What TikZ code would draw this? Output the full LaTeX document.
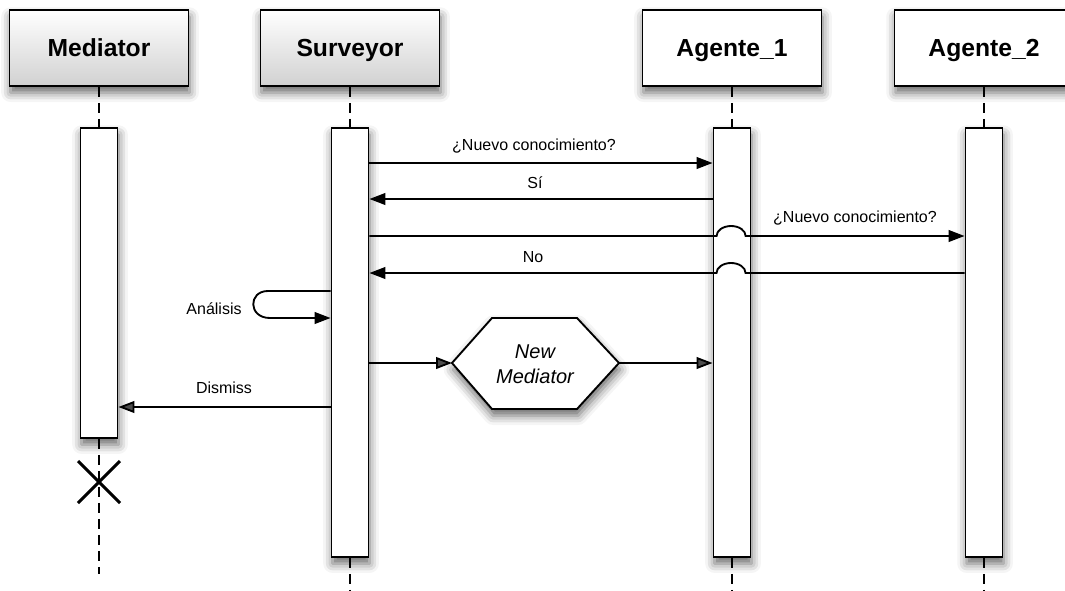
\documentclass[tikz,border=0pt]{standalone}
\usepackage{fontspec}
\setmainfont{Liberation Sans}
\usetikzlibrary{arrows.meta,calc,shadows.blur}
\begin{document}
\begin{tikzpicture}[x=0.75pt,y=-0.75pt,
  line width=1.4pt,
  soft/.style={blur shadow={shadow xshift=0.8pt,shadow yshift=-5pt,shadow blur radius=7pt,shadow opacity=60}},
  header/.style={draw, soft, fill=white, minimum width=134.25pt, minimum height=57pt,
                 text height=13.2pt, text depth=0pt,
                 font=\fontsize{18.5}{22}\selectfont\bfseries},
  greyfill/.style={top color=white, bottom color=black!18},
  bar/.style={draw, soft, fill=white, minimum width=27.75pt, anchor=north, inner sep=0pt},
  life/.style={line width=1.1pt, dash pattern=on 7.5pt off 4.5pt},
  msg/.style={-{Triangle[length=12pt,width=8.8pt]}},
  lbl/.style={font=\fontsize{12}{14}\selectfont, inner sep=0pt, anchor=base},
  hextext/.style={inner sep=0pt, align=center, font=\fontsize{15}{18.75}\selectfont\itshape},
]
\useasboundingbox (0,0) rectangle (1065,590);

% participant heads
\node[header,greyfill] (hM)  at (99,48)  {Mediator};
\node[header,greyfill] (hS)  at (350,48) {Surveyor};
\node[header]          (hA1) at (732,48) {Agente\_1};
\node[header]          (hA2) at (984,48) {Agente\_2};

% activation bars
\node[bar, minimum height=232.5pt]  (aM)  at (99,127)  {};
\node[bar, minimum height=321.75pt] (aS)  at (350,127) {};
\node[bar, minimum height=321.75pt] (aA1) at (732,127) {};
\node[bar, minimum height=321.75pt] (aA2) at (984,127) {};

% lifelines
\coordinate (endM)  at (99,574);
\coordinate (endS)  at (350,595);
\coordinate (endA1) at (732,595);
\coordinate (endA2) at (984,595);
\draw[life] (hM.south)  -- (aM.north);
\draw[life] (hS.south)  -- (aS.north);
\draw[life] (hA1.south) -- (aA1.north);
\draw[life] (hA2.south) -- (aA2.north);
\draw[life] (aM.south)  -- (endM);
\draw[life] (aS.south)  -- (endS);
\draw[life] (aA1.south) -- (endA1);
\draw[life] (aA2.south) -- (endA2);

% destruction of the mediator
\coordinate (kill) at (99,482);
\draw[line width=2.3pt] (kill) +(-21,-21) -- +(21,21);
\draw[line width=2.3pt] (kill) +(-21,21) -- +(21,-21);

% messages
\draw[msg] (aS.east |- 0,163) -- (aA1.west |- 0,163);
\node[lbl] (l1) at (534,150) {¿Nuevo conocimiento?};

\draw[msg] (aA1.west |- 0,199) -- (aS.east |- 0,199);
\node[lbl] (l2) at (535,188) {Sí};

\draw[msg] (aS.east |- 0,236) -- ($(aA1.west |- 0,236)+(4,0)$)
  arc[start angle=180, end angle=0, x radius=10.9pt, y radius=7.5pt]
  -- (aA2.west |- 0,236);
\node[lbl] (l3) at (855,222) {¿Nuevo conocimiento?};

\draw[msg] (aA2.west |- 0,273) -- ($(aA1.west |- 0,273)+(33,0)$)
  arc[start angle=0, end angle=180, x radius=10.9pt, y radius=7.5pt]
  -- (aS.east |- 0,273);
\node[lbl] (l4) at (533,262) {No};

% self call
\draw[msg] (aS.west |- 0,291) -- (268,291)
  .. controls (248,291) and (248,318) .. (270,318) -- (aS.west |- 0,318);
\node[lbl] (l5) at (214,314) {Análisis};

% creation of the new mediator
\coordinate (hexL) at (452,363);
\coordinate (hexR) at (619,363);
\draw[soft, fill=white] (hexL) -- (492,318) -- (577,318) -- (hexR) -- (577,409) -- (492,409) -- cycle;
\node[hextext] (hex) at (535,364) {New\\Mediator};
\draw[msg] (aS.east |- hexL) -- (hexL);
\draw[msg] (hexR) -- (aA1.west |- hexR);

% dismissal
\draw[msg] (aS.west |- 0,407) -- (aM.east |- 0,407);
\node[lbl] (l6) at (224,393) {Dismiss};
\end{tikzpicture}
\end{document}
